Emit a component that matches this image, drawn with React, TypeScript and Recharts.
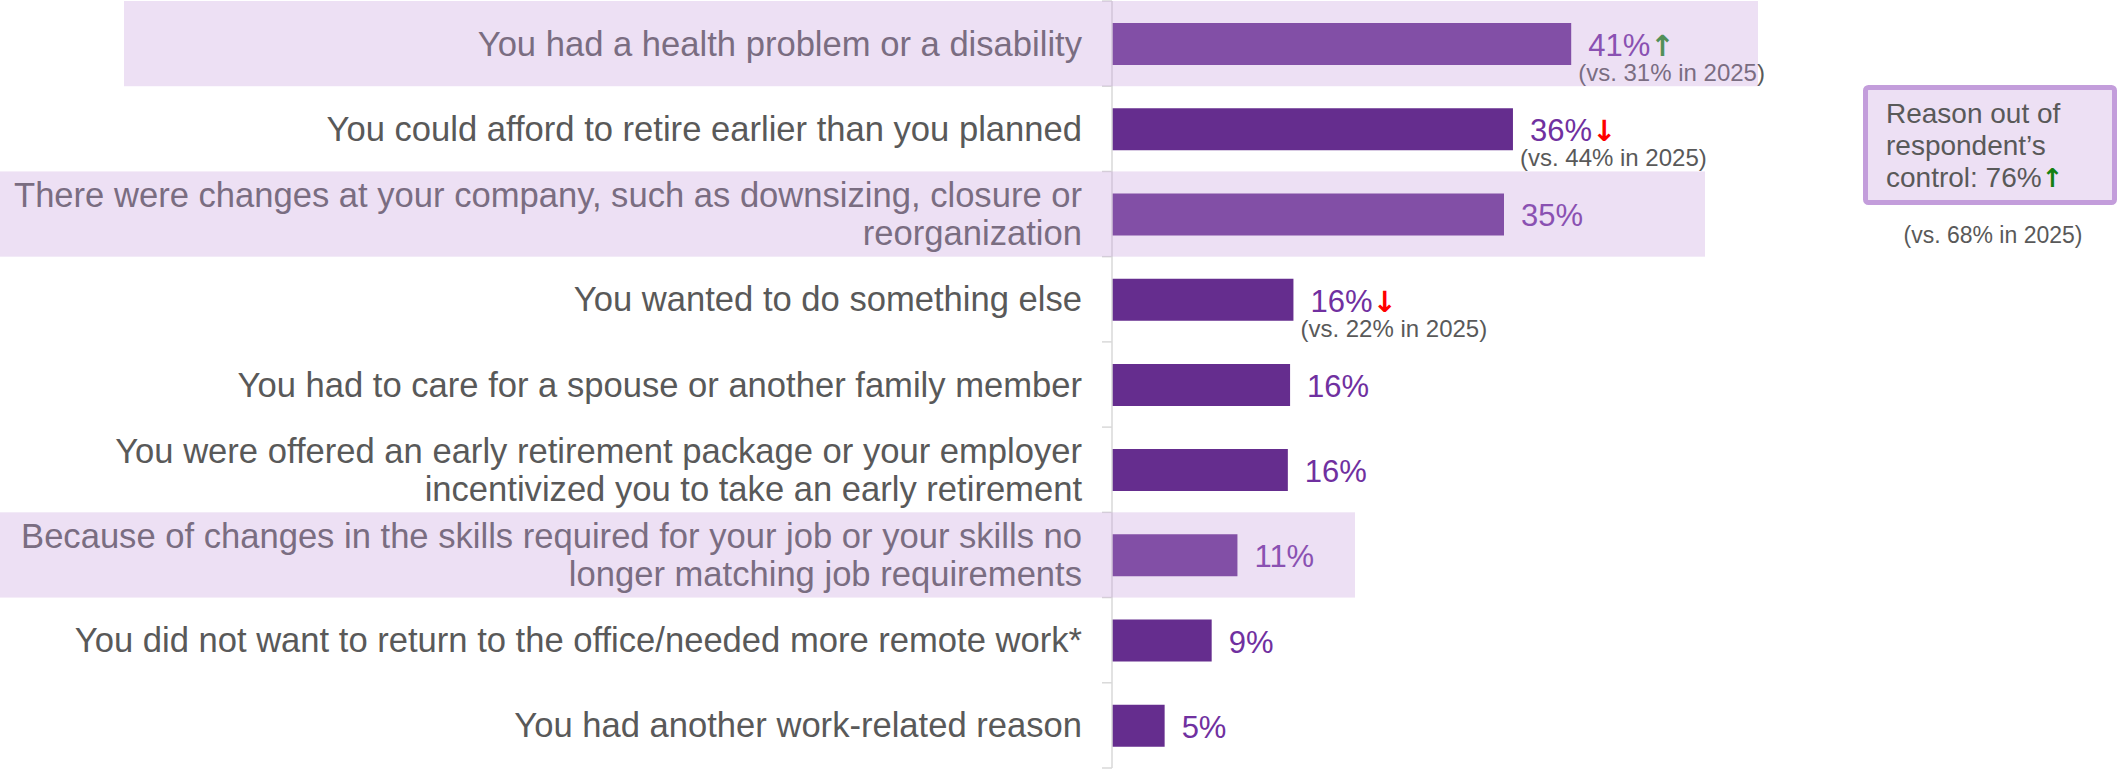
import React from "react";
import { BarChart, Bar, XAxis, YAxis, LabelList } from "recharts";

// ---------- data ----------
const categories: string[] = [
  "You had a health problem or a disability",
  "You could afford to retire earlier than you planned",
  "There were changes at your company, such as downsizing, closure or\nreorganization",
  "You wanted to do something else",
  "You had to care for a spouse or another family member",
  "You were offered an early retirement package or your employer\nincentivized you to take an early retirement",
  "Because of changes in the skills required for your job or your skills no\nlonger matching job requirements",
  "You did not want to return to the office/needed more remote work*",
  "You had another work-related reason",
];
const values: number[] = [41.0, 35.8, 35.0, 16.2, 15.9, 15.7, 11.2, 8.9, 4.7];
const valueLabels: string[] = ["41%", "36%", "35%", "16%", "16%", "16%", "11%", "9%", "5%"];
const trends: string[] = ["up", "down", "", "down", "", "", "", "", ""];
const prior2025: string[] = ["31%", "44%", "", "22%", "", "", "", "", ""];
const controlTotal = "76%";
const controlPrior = "68%";

// ---------- layout / style ----------
const W = 2118;
const H = 769;
const M_TOP = 1;
const M_BOTTOM = 1;
const AXIS_W = 1112;
const BAND = (H - M_TOP - M_BOTTOM) / categories.length;
const FONT = "'Liberation Sans', Arial, sans-serif";
const ARROW_FONT = "'DejaVu Sans', sans-serif";
const BAR = "#652D8E";
const VAL = "#7030A0";
const GRAY = "#595959";
const OVERLAY = "rgba(197,155,220,0.31)";
const highlightSpans = [
  { row: 0, x1: 124, x2: 1758 },
  { row: 2, x1: 0, x2: 1705 },
  { row: 6, x1: 0, x2: 1355 },
];

const rows = categories.map((name, i) => ({ name, value: values[i] }));

const CategoryTick = (props: any) => {
  const { x, y, payload, index } = props;
  const lines = String(payload.value).split("\n");
  const n = lines.length;
  return (
    <g>
      <line x1={x - 10} x2={x} y1={y - BAND / 2} y2={y - BAND / 2} stroke="#D9D9D9" strokeWidth={1.5} />
      {index === categories.length - 1 && (
        <line x1={x - 10} x2={x} y1={y + BAND / 2} y2={y + BAND / 2} stroke="#D9D9D9" strokeWidth={1.5} />
      )}
      <text textAnchor="end" fontFamily={FONT} fontSize={34.6} fill={GRAY}>
        {lines.map((l, i) => (
          <tspan key={i} x={x - 30} y={y + 12 + (i - (n - 1) / 2) * 38}>
            {l}
          </tspan>
        ))}
      </text>
    </g>
  );
};

const ValueLabel = (props: any) => {
  const { x, y, width, height, index } = props;
  const i = typeof index === "number" ? index : values.indexOf(props.value);
  const endX = Number(x) + Number(width);
  const cy = Number(y) + Number(height) / 2;
  const t = trends[i];
  return (
    <g>
      <text x={endX + 17} y={cy + 12} fontFamily={FONT} fontSize={31} fill={VAL}>
        {valueLabels[i]}
        {t === "up" && (
          <tspan fill="#1E8C1E" fontWeight="bold" fontFamily={ARROW_FONT} fontSize={29}>↑</tspan>
        )}
        {t === "down" && (
          <tspan fill="#FF0000" fontWeight="bold" fontFamily={ARROW_FONT} fontSize={29}>↓</tspan>
        )}
      </text>
      {prior2025[i] && (
        <text x={endX + 7} y={cy + 37} fontFamily={FONT} fontSize={24} fill={GRAY}>
          {`(vs. ${prior2025[i]} in 2025)`}
        </text>
      )}
    </g>
  );
};

export default function App() {
  return (
    <div style={{ position: "absolute", left: 0, top: 0, width: W, height: H, background: "#fff" }}>
      <BarChart
        width={W}
        height={H}
        layout="vertical"
        data={rows}
        margin={{ top: M_TOP, right: 110, bottom: M_BOTTOM, left: 0 }}
        barSize={42}
      >
        <XAxis type="number" domain={[0, 80]} hide />
        <YAxis
          type="category"
          dataKey="name"
          width={AXIS_W}
          interval={0}
          tickLine={false}
          tickSize={0}
          tickMargin={0}
          axisLine={{ stroke: "#D9D9D9", strokeWidth: 1.5 }}
          tick={(p: any) => <CategoryTick {...p} />}
        />
        <Bar dataKey="value" fill={BAR} isAnimationActive={false}>
          <LabelList dataKey="value" content={(p: any) => <ValueLabel {...p} />} />
        </Bar>
      </BarChart>
      <svg
        width={W}
        height={H}
        style={{ position: "absolute", left: 0, top: 0, pointerEvents: "none" }}
      >
        {highlightSpans.map((s) => (
          <rect
            key={s.row}
            x={s.x1}
            y={M_TOP + s.row * BAND}
            width={s.x2 - s.x1}
            height={BAND}
            fill={OVERLAY}
          />
        ))}
        <rect x={1865.5} y={87.5} width={249} height={115} rx={3} fill="#EDE0F4" stroke="#C39DDB" strokeWidth={5} />
        <text fontFamily={FONT} fontSize={28} fill={GRAY}>
          <tspan x={1886} y={123}>Reason out of</tspan>
          <tspan x={1886} y={155}>respondent’s</tspan>
          <tspan x={1886} y={187}>
            {`control: ${controlTotal}`}
            <tspan fill="#138013" fontWeight="bold" fontFamily={ARROW_FONT} fontSize={26}>↑</tspan>
          </tspan>
        </text>
        <text x={1993} y={243} textAnchor="middle" fontFamily={FONT} fontSize={23} fill={GRAY}>
          {`(vs. ${controlPrior} in 2025)`}
        </text>
      </svg>
    </div>
  );
}
